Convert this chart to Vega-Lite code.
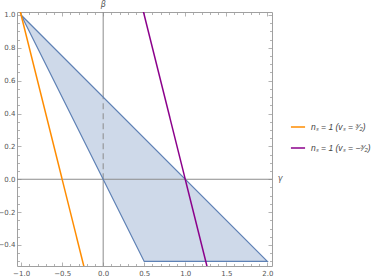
{
  "$schema": "https://vega.github.io/schema/vega-lite/v6.json",
  "width": 255,
  "height": 254,
  "autosize": "none",
  "padding": {"left": 17, "top": 12, "right": 110, "bottom": 10},
  "background": "white",
  "config": {
    "font": "DejaVu Sans",
    "view": {"stroke": "#a0a0a0", "strokeWidth": 1},
    "axis": {"grid": false, "domain": false, "title": null, "labelFontSize": 7, "labelColor": "#555555", "tickColor": "#a0a0a0", "tickWidth": 0.8}
  },
  "datasets": {
    "region": [
      {"g": -1.0, "top": 1.0, "bottom": 1.0},
      {"g": 0.5, "top": 0.25, "bottom": -0.5},
      {"g": 2.0, "top": -0.5, "bottom": -0.5}
    ],
    "outline": [
      {"g": -1.0, "b": 1.0, "k": 0},
      {"g": 0.5, "b": -0.5, "k": 1},
      {"g": 2.0, "b": -0.5, "k": 2},
      {"g": -1.0, "b": 1.0, "k": 3}
    ],
    "curves": [
      {"series": "nₛ = 1 (vₛ = ³⁄₂)", "g": -1.1, "b": 1.2},
      {"series": "nₛ = 1 (vₛ = ³⁄₂)", "g": -0.2, "b": -0.6},
      {"series": "nₛ = 1 (vₛ = −³⁄₂)", "g": 0.4, "b": 1.2},
      {"series": "nₛ = 1 (vₛ = −³⁄₂)", "g": 1.3, "b": -0.6}
    ],
    "axesSolid": [
      {"g": -2, "g2": 3, "b": 0, "b2": 0},
      {"g": 0, "g2": 0, "b": -1, "b2": 0},
      {"g": 0, "g2": 0, "b": 0.5, "b2": 2}
    ],
    "axesDashed": [
      {"g": 0, "g2": 0, "b": 0, "b2": 0.5}
    ],
    "axisNames": [
      {"g": 2.057, "b": 0, "name": "γ", "which": "x"},
      {"g": 0, "b": 1.018, "name": "β", "which": "y"}
    ]
  },
  "layer": [
    {
      "data": {"name": "region"},
      "mark": {"type": "area", "color": "#5e81b5", "opacity": 0.3, "clip": true},
      "encoding": {
        "x": {"field": "g", "type": "quantitative",
          "scale": {"domain": [-1.05, 2.057], "nice": false, "zero": false},
          "axis": {"orient": "bottom",
            "values": [-1.0,-0.9,-0.8,-0.7,-0.6,-0.5,-0.4,-0.3,-0.2,-0.1,0,0.1,0.2,0.3,0.4,0.5,0.6,0.7,0.8,0.9,1.0,1.1,1.2,1.3,1.4,1.5,1.6,1.7,1.8,1.9,2.0],
            "labelExpr": "abs(datum.value*2 - round(datum.value*2)) < 0.001 ? format(datum.value, '.1f') : ''",
            "tickSize": {"condition": {"test": "abs(datum.value*2 - round(datum.value*2)) < 0.001", "value": -4}, "value": -2.5},
            "labelPadding": 7}},
        "y": {"field": "top", "type": "quantitative",
          "scale": {"domain": [-0.528, 1.018], "nice": false, "zero": false},
          "axis": {"orient": "left",
            "values": [-0.5,-0.45,-0.4,-0.35,-0.3,-0.25,-0.2,-0.15,-0.1,-0.05,0,0.05,0.1,0.15,0.2,0.25,0.3,0.35,0.4,0.45,0.5,0.55,0.6,0.65,0.7,0.75,0.8,0.85,0.9,0.95,1.0],
            "labelExpr": "abs(datum.value*5 - round(datum.value*5)) < 0.001 ? format(datum.value, '.1f') : ''",
            "tickSize": {"condition": {"test": "abs(datum.value*5 - round(datum.value*5)) < 0.001", "value": -4}, "value": -2.5},
            "labelPadding": 6}},
        "y2": {"field": "bottom"}
      }
    },
    {
      "data": {"name": "axesSolid"},
      "mark": {"type": "rule", "color": "#8c8c8c", "strokeWidth": 1, "clip": true},
      "encoding": {
        "x": {"field": "g", "type": "quantitative", "axis": {"orient": "top", "labels": false,
            "values": [-1.0,-0.9,-0.8,-0.7,-0.6,-0.5,-0.4,-0.3,-0.2,-0.1,0,0.1,0.2,0.3,0.4,0.5,0.6,0.7,0.8,0.9,1.0,1.1,1.2,1.3,1.4,1.5,1.6,1.7,1.8,1.9,2.0],
            "tickSize": {"condition": {"test": "abs(datum.value*2 - round(datum.value*2)) < 0.001", "value": -4}, "value": -2.5}}},
        "x2": {"field": "g2"},
        "y": {"field": "b", "type": "quantitative", "axis": {"orient": "right", "labels": false,
            "values": [-0.5,-0.45,-0.4,-0.35,-0.3,-0.25,-0.2,-0.15,-0.1,-0.05,0,0.05,0.1,0.15,0.2,0.25,0.3,0.35,0.4,0.45,0.5,0.55,0.6,0.65,0.7,0.75,0.8,0.85,0.9,0.95,1.0],
            "tickSize": {"condition": {"test": "abs(datum.value*5 - round(datum.value*5)) < 0.001", "value": -4}, "value": -2.5}}},
        "y2": {"field": "b2"}
      }
    },
    {
      "data": {"name": "axesDashed"},
      "mark": {"type": "rule", "color": "#8c8c8c", "strokeWidth": 1, "strokeDash": [6, 4], "clip": true},
      "encoding": {
        "x": {"field": "g", "type": "quantitative", "axis": null},
        "x2": {"field": "g2"},
        "y": {"field": "b", "type": "quantitative", "axis": null},
        "y2": {"field": "b2"}
      }
    },
    {
      "data": {"name": "outline"},
      "mark": {"type": "line", "color": "#5e81b5", "strokeWidth": 1.2, "clip": true},
      "encoding": {
        "x": {"field": "g", "type": "quantitative", "axis": null},
        "y": {"field": "b", "type": "quantitative", "axis": null},
        "order": {"field": "k", "type": "quantitative"}
      }
    },
    {
      "data": {"name": "curves"},
      "mark": {"type": "line", "strokeWidth": 1.5, "clip": true},
      "encoding": {
        "x": {"field": "g", "type": "quantitative", "axis": null},
        "y": {"field": "b", "type": "quantitative", "axis": null},
        "color": {"field": "series", "type": "nominal",
          "scale": {"domain": ["nₛ = 1 (vₛ = ³⁄₂)", "nₛ = 1 (vₛ = −³⁄₂)"], "range": ["#ff8c00", "#8b008b"]},
          "legend": {"orient": "none", "legendX": 273, "legendY": 107, "title": null,
            "symbolType": "stroke", "symbolSize": 200, "symbolStrokeWidth": 1.5,
            "labelFont": "Liberation Sans", "labelFontSize": 8.5, "labelLimit": 300, "labelColor": "#444444", "labelFontStyle": "italic", "labelOffset": 5, "rowPadding": 8}}
      }
    },
    {
      "data": {"name": "axisNames"},
      "transform": [{"filter": "datum.which == 'x'"}],
      "mark": {"type": "text", "fontSize": 8, "fontStyle": "italic", "color": "#555555", "dx": 8, "align": "center", "baseline": "middle"},
      "encoding": {
        "x": {"field": "g", "type": "quantitative", "axis": null},
        "y": {"field": "b", "type": "quantitative", "axis": null},
        "text": {"field": "name"}
      }
    },
    {
      "data": {"name": "axisNames"},
      "transform": [{"filter": "datum.which == 'y'"}],
      "mark": {"type": "text", "fontSize": 8, "fontStyle": "italic", "color": "#555555", "dy": -7, "align": "center", "baseline": "middle"},
      "encoding": {
        "x": {"field": "g", "type": "quantitative", "axis": null},
        "y": {"field": "b", "type": "quantitative", "axis": null},
        "text": {"field": "name"}
      }
    }
  ]
}
